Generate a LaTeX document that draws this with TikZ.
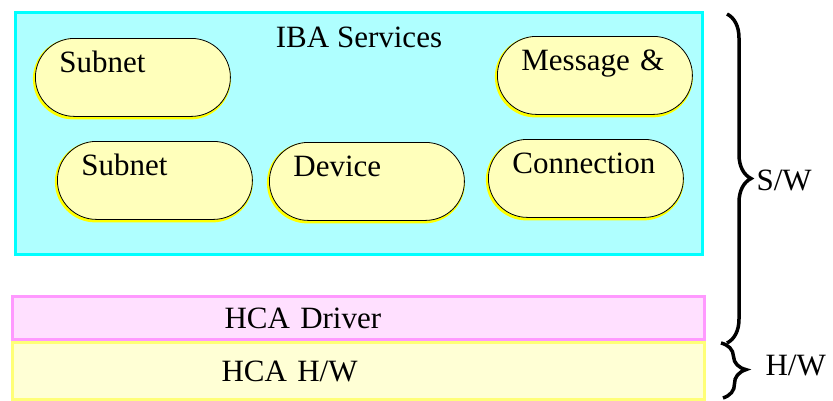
\documentclass[tikz,border=0pt]{standalone}
\usepackage{fontspec}
\setmainfont{Liberation Serif}
\usepackage{tikz}
\usetikzlibrary{positioning,decorations.pathreplacing}

\definecolor{svcline}{RGB}{0,255,255}
\definecolor{svcfill}{RGB}{175,255,255}
\definecolor{pillfill}{RGB}{255,255,187}
\definecolor{pillshade}{RGB}{255,255,0}
\definecolor{drvfill}{RGB}{255,224,255}
\definecolor{drvline}{RGB}{255,153,255}
\definecolor{hwfill}{RGB}{255,255,213}
\definecolor{hwline}{RGB}{255,255,119}

\begin{document}
\begin{tikzpicture}[
  x=1pt, y=-1pt,
  font=\rmfamily\fontsize{31}{36}\selectfont,
  layer/.style={line width=3pt, minimum width=692pt, inner ysep=0pt,
    text width=268pt, align=left, inner xsep=212pt},
  pill/.style={draw=black, line width=0.8pt, fill=pillfill, rounded corners=39pt,
    minimum width=195pt, minimum height=78pt, text width=147pt, align=left,
    inner xsep=24pt, inner ysep=7pt, text height=27pt, text depth=37pt,
    anchor=north west,
    preaction={draw=pillshade, line width=3pt, transform canvas={shift={(-1pt,-1.5pt)}}}},
  brc/.style={decorate, decoration={brace, amplitude=24pt}, line width=3.5pt}
]
\useasboundingbox (0,0) rectangle (833,400);

% software side
\node[draw=svcline, line width=3pt, fill=svcfill, anchor=north west, inner sep=0pt,
  minimum width=687pt, text height=35pt, text depth=207pt] (iba) at (14,11) {IBA Services};
\node[pill] (subnet1) at (35,38) {Subnet};
\node[pill] (msg) at (497,36) {Message \&};
\node[pill] (subnet2) at (57,141) {Subnet};
\node[pill] (dev) at (269,142) {Device};
\node[pill] (conn) at (488,139) {Connection};

% driver and hardware
\node[layer, draw=drvline, fill=drvfill, anchor=north west, minimum height=43pt] (drv) at (11,295) {HCA Driver};
\node[layer, draw=hwline, fill=hwfill, minimum height=57pt, inner xsep=209pt, text width=274pt,
  below=0pt of drv] (hca) {HCA H/W};

% braces
\coordinate (swtop) at (727,14);
\coordinate (swbot) at (727,343);
\coordinate (hwtop) at (721,343);
\coordinate (hwbot) at (723,398);
\draw[brc] (swtop) -- (swbot);
\draw[brc] (hwtop) -- (hwbot);
\node[anchor=west] (sw) at (753,180) {S/W};
\node[anchor=west] (hw) at (762,366) {H/W};
\end{tikzpicture}
\end{document}
